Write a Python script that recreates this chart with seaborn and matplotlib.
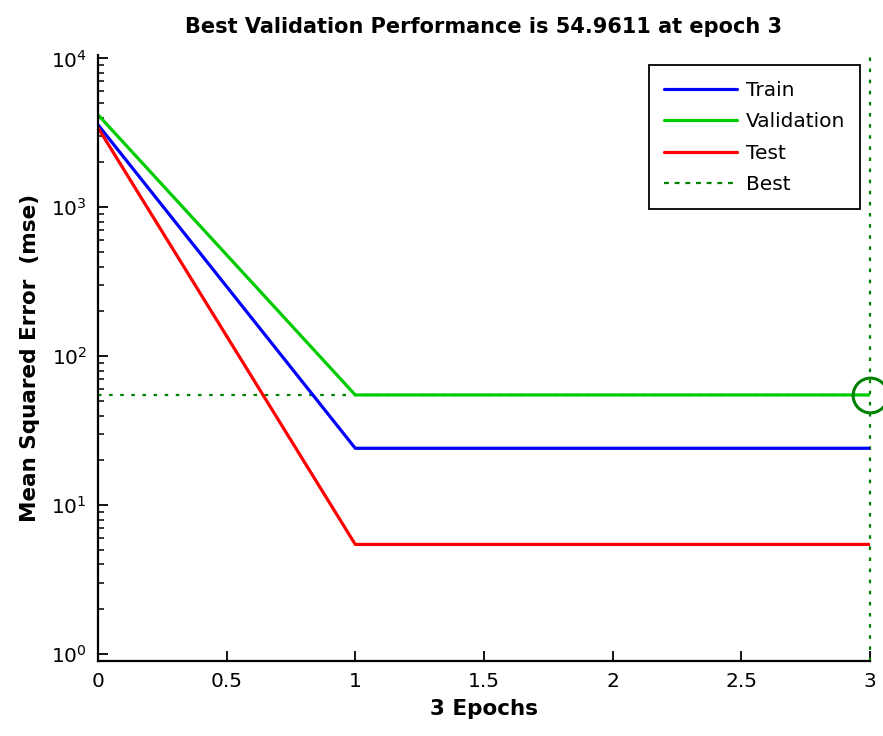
import numpy as np
import pandas as pd
import matplotlib
matplotlib.use("Agg")
import matplotlib.pyplot as plt
import seaborn as sns
from matplotlib.ticker import LogLocator, NullFormatter, FixedLocator

# Performance record of a 3-epoch training run
epochs = [0, 1, 2, 3]
train_mse = [3580, 24.1, 24.1, 24.1]
validation_mse = [4180, 54.9611, 54.9611, 54.9611]
test_mse = [3420, 5.45, 5.45, 5.45]
best_epoch = 3
best_perf = 54.9611

x_ticks = [0, 0.5, 1, 1.5, 2, 2.5, 3]
x_tick_labels = ["0", "0.5", "1", "1.5", "2", "2.5", "3"]

sns.set_style("white")
plt.rcParams["font.family"] = ["DejaVu Sans"]
plt.rcParams["text.color"] = "black"
plt.rcParams["axes.labelcolor"] = "black"
plt.rcParams["xtick.color"] = "black"
plt.rcParams["ytick.color"] = "black"

df = pd.DataFrame({
    "epoch": epochs * 3,
    "mse": train_mse + validation_mse + test_mse,
    "set": ["Train"] * 4 + ["Validation"] * 4 + ["Test"] * 4,
})
palette = {"Train": "#0000ff", "Validation": "#00cc00", "Test": "#ff0000"}
best_color = "#008000"

fig = plt.figure(figsize=(8.83, 7.36), dpi=100)
ax = fig.add_axes([0.111, 0.102, 0.874, 0.823])

sns.lineplot(data=df, x="epoch", y="mse", hue="set", palette=palette,
             hue_order=["Train", "Validation", "Test"], linewidth=2.3,
             ax=ax, legend=False, estimator=None, sort=False)

dots = (0, (1.6, 3.4))
ax.axhline(best_perf, color=best_color, linestyle=dots, linewidth=1.6, zorder=1)
ax.axvline(best_epoch, color=best_color, linestyle=dots, linewidth=1.6, zorder=1,
           clip_on=False)
ax.plot([best_epoch], [best_perf], marker="o", markersize=25, markerfacecolor="none",
        markeredgecolor=best_color, markeredgewidth=2.2, linestyle="none",
        clip_on=False, zorder=5)

ax.set_yscale("log")
ax.set_xlim(0, 3)
ax.set_ylim(0.9, 1.05e4)

ax.xaxis.set_major_locator(FixedLocator(x_ticks))
ax.set_xticklabels(x_tick_labels)
ax.yaxis.set_major_locator(LogLocator(base=10, numticks=10))
ax.yaxis.set_minor_locator(LogLocator(base=10, subs=np.arange(2, 10), numticks=20))
ax.yaxis.set_minor_formatter(NullFormatter())

ax.tick_params(axis="both", which="major", direction="in", length=7, width=1.3,
               labelsize=14.5, colors="black", pad=8)
ax.tick_params(axis="y", which="minor", direction="in", length=4, width=1.1, left=True)
ax.tick_params(axis="x", which="major", bottom=True)
ax.tick_params(axis="y", which="major", left=True)

for side in ["top", "right"]:
    ax.spines[side].set_visible(False)
for side in ["left", "bottom"]:
    ax.spines[side].set_color("black")
    ax.spines[side].set_linewidth(1.6)

ax.set_title("Best Validation Performance is 54.9611 at epoch 3",
             fontsize=15, fontweight="bold", pad=16, color="black")
ax.set_xlabel("3 Epochs", fontsize=15.5, fontweight="bold", labelpad=6)
ax.set_ylabel("Mean Squared Error  (mse)", fontsize=15.5, fontweight="bold", labelpad=8)

handles = [
    plt.Line2D([], [], color=palette["Train"], linewidth=2.3),
    plt.Line2D([], [], color=palette["Validation"], linewidth=2.3),
    plt.Line2D([], [], color=palette["Test"], linewidth=2.3),
    plt.Line2D([], [], color=best_color, linewidth=1.6, linestyle=(0, (2.2, 2.6))),
]
leg = ax.legend(handles, ["Train", "Validation", "Test", "Best"], loc="upper right",
                bbox_to_anchor=(0.988, 0.983), fontsize=14.5, frameon=True,
                fancybox=False, edgecolor="black", handlelength=3.6,
                handletextpad=0.45, labelspacing=0.62, borderpad=0.75,
                borderaxespad=0)
leg.get_frame().set_linewidth(1.3)
leg.get_frame().set_alpha(1)
for t in leg.get_texts():
    t.set_color("black")

fig.savefig("out.png", dpi=100)
